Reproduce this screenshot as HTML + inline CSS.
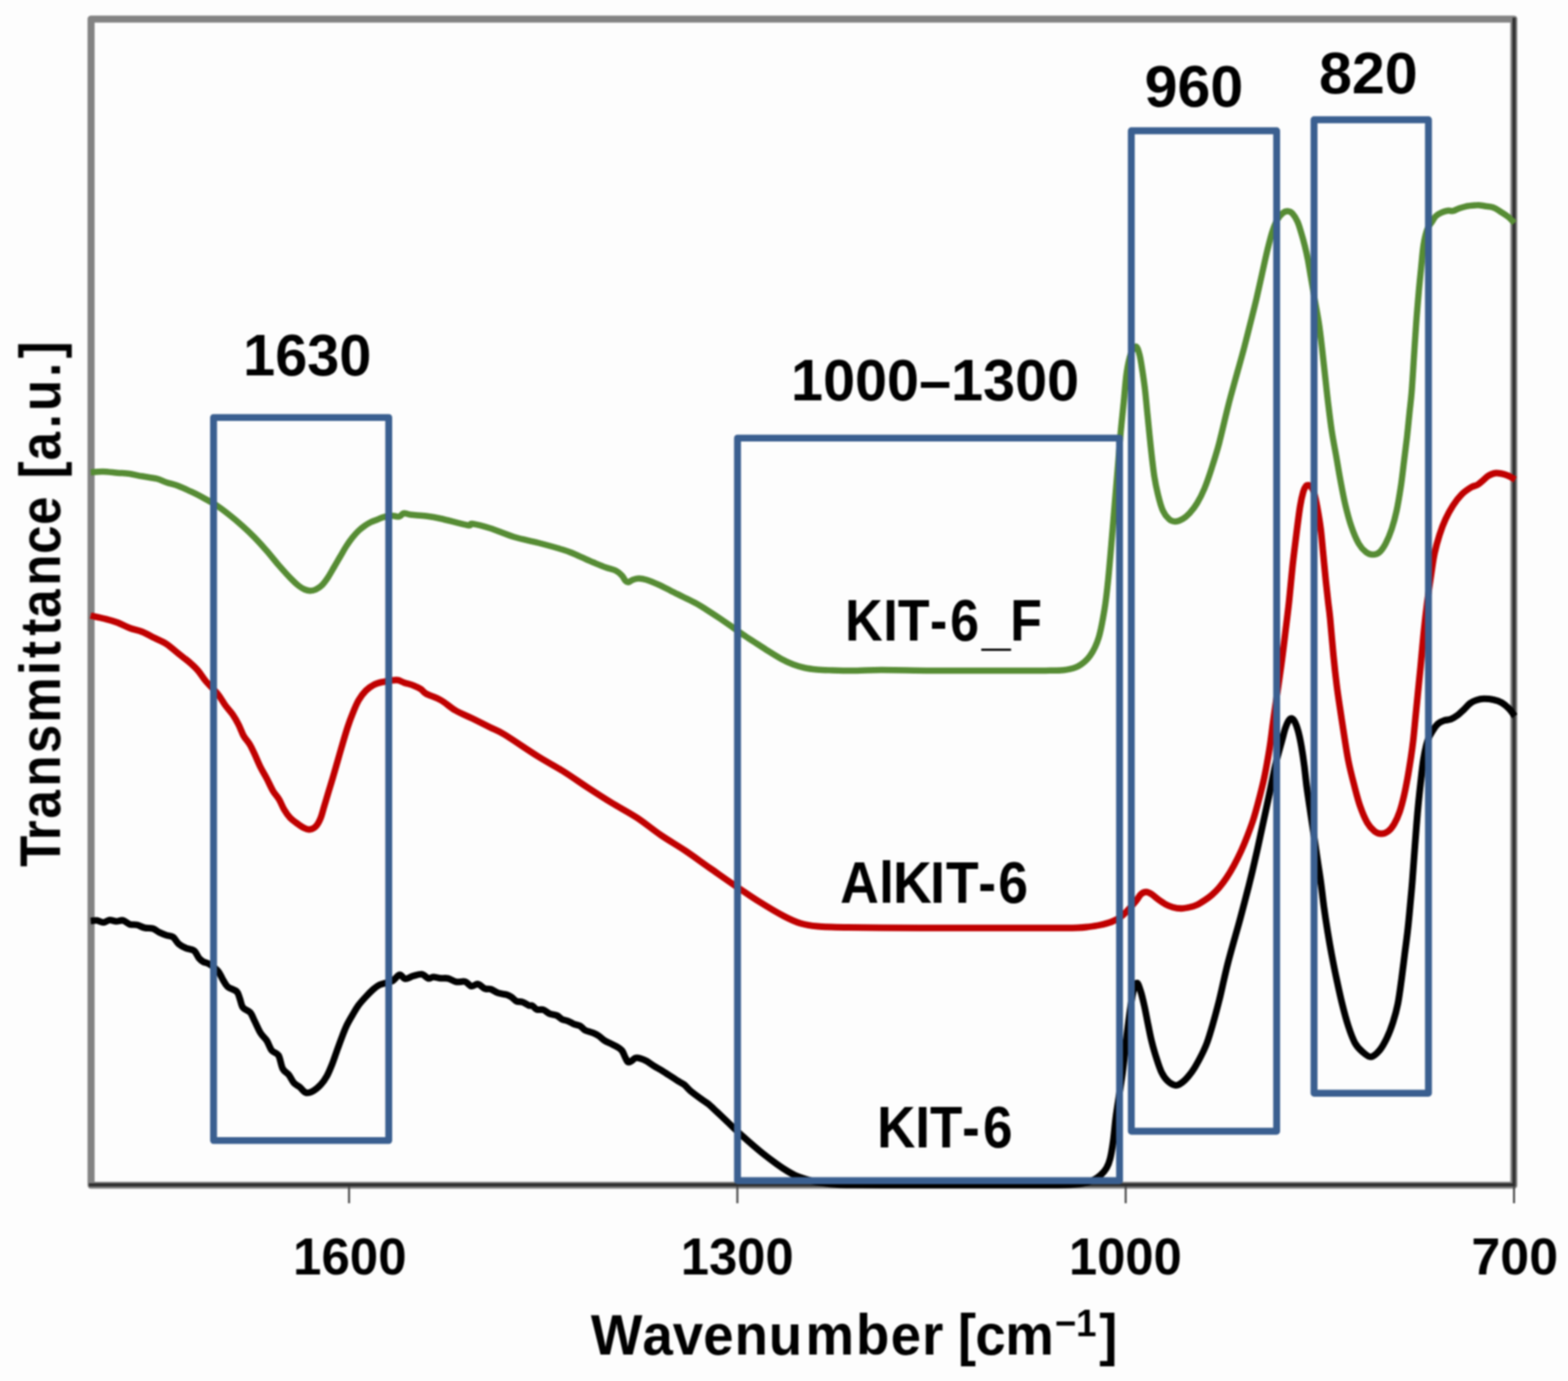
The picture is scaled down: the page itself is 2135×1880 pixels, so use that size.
<!DOCTYPE html>
<html lang="en">
<head>
<meta charset="utf-8">
<title>FTIR spectra of KIT-6, AlKIT-6 and KIT-6_F</title>
<style>
html,body{margin:0;padding:0;background:#fdfdfd;}
body{width:2135px;height:1880px;overflow:hidden;font-family:"Liberation Sans",sans-serif;}
svg{display:block;}
text{white-space:pre;}
</style>
</head>
<body>
<svg width="2135" height="1880" viewBox="0 0 2135 1880" role="img" aria-label="FTIR transmittance spectra of KIT-6, AlKIT-6 and KIT-6_F">
<defs><filter id="soft" x="-2%" y="-2%" width="104%" height="104%" color-interpolation-filters="sRGB"><feGaussianBlur stdDeviation="1.0"/></filter></defs>
<rect width="2135" height="1880" fill="#fdfdfd"/>
<g id="plot" filter="url(#soft)" fill="none">
<rect id="frame" x="124" y="26" width="1937.3" height="1587.5" stroke="#838383" stroke-width="9.6" stroke-linejoin="round"/>
<path id="axes" d="M2061.5,24 L2061.5,1613 L121,1613" stroke="#2e2e2e" stroke-width="4.3" stroke-linejoin="miter"/>
<g id="ticks" stroke="#4c4c4c" stroke-width="2.8">
<line x1="475.25" y1="1615" x2="475.25" y2="1638"/>
<line x1="1004" y1="1615" x2="1004" y2="1638"/>
<line x1="1532.75" y1="1615" x2="1532.75" y2="1638"/>
<line x1="2061.5" y1="1615" x2="2061.5" y2="1638"/>
</g>
<g id="spectra" stroke-linejoin="round">
<path id="kit6" d="M123.5,1253.7C124.9,1253.6 128.8,1252.7 131.7,1253.0C134.6,1253.3 137.9,1255.9 140.8,1255.8C143.7,1255.7 146.3,1252.8 149.2,1252.5C152.1,1252.2 155.2,1254.1 158.3,1254.2C161.4,1254.3 164.4,1252.3 167.5,1253.0C170.6,1253.7 173.5,1257.3 176.7,1258.3C179.9,1259.3 183.4,1258.4 186.7,1259.2C190.0,1260.0 193.1,1262.2 196.7,1263.0C200.3,1263.8 205.0,1263.2 208.3,1264.2C211.6,1265.2 213.6,1267.7 216.7,1269.2C219.8,1270.7 223.5,1272.2 226.7,1273.3C229.9,1274.4 233.0,1273.8 235.8,1275.8C238.6,1277.8 240.4,1282.5 243.3,1285.0C246.2,1287.5 249.8,1289.3 253.3,1290.8C256.8,1292.3 261.3,1292.0 264.2,1294.2C267.1,1296.4 268.7,1301.7 270.8,1304.2C272.9,1306.7 274.3,1307.8 276.7,1309.2C279.1,1310.6 281.7,1310.4 285.0,1312.5C288.3,1314.6 293.6,1318.2 296.7,1321.7C299.8,1325.2 301.1,1329.7 303.3,1333.3C305.5,1336.9 306.8,1340.5 310.0,1343.3C313.2,1346.1 319.7,1347.2 322.5,1350.0C325.3,1352.8 325.3,1356.4 326.7,1360.0C328.1,1363.6 328.4,1368.7 330.8,1371.7C333.2,1374.8 338.2,1375.2 340.8,1378.3C343.4,1381.3 344.3,1385.3 346.7,1390.0C349.1,1394.7 352.2,1402.2 355.0,1406.7C357.8,1411.2 360.8,1412.8 363.3,1416.7C365.8,1420.6 367.4,1426.7 370.0,1430.0C372.6,1433.3 376.7,1432.5 379.2,1436.7C381.7,1440.9 382.6,1450.6 385.0,1455.0C387.4,1459.4 390.8,1460.1 393.3,1463.3C395.8,1466.5 397.5,1471.2 400.0,1474.0C402.5,1476.8 405.5,1477.8 408.3,1480.0C411.1,1482.2 413.6,1486.7 416.7,1487.5C419.8,1488.3 423.4,1486.8 426.7,1485.0C430.0,1483.2 433.6,1480.0 436.7,1476.7C439.8,1473.4 442.5,1469.5 445.0,1465.0C447.5,1460.5 449.5,1455.5 451.7,1450.0C453.9,1444.5 456.1,1437.8 458.3,1431.7C460.5,1425.6 462.8,1419.1 465.0,1413.3C467.2,1407.5 469.2,1402.0 471.7,1396.7C474.2,1391.4 477.2,1386.4 480.0,1381.7C482.8,1377.0 485.2,1372.5 488.3,1368.3C491.4,1364.1 495.0,1360.3 498.3,1356.7C501.6,1353.1 505.2,1349.4 508.3,1346.7C511.4,1344.0 513.9,1342.2 516.7,1340.8C519.5,1339.4 522.0,1339.3 525.0,1338.3C528.0,1337.3 531.8,1336.9 535.0,1335.0C538.2,1333.1 541.4,1327.4 544.2,1327.0C547.0,1326.6 548.7,1332.2 551.7,1332.5C554.8,1332.8 558.8,1329.7 562.5,1328.7C566.2,1327.7 570.7,1325.8 574.2,1326.3C577.7,1326.8 580.7,1331.4 583.3,1332.0C585.9,1332.6 587.2,1330.0 590.0,1330.0C592.8,1330.0 596.7,1331.4 600.0,1331.7C603.3,1332.0 606.4,1331.2 610.0,1332.0C613.6,1332.8 617.8,1336.0 621.7,1336.7C625.6,1337.4 630.0,1335.3 633.3,1336.3C636.6,1337.3 638.8,1341.9 641.7,1342.5C644.6,1343.1 647.8,1339.2 650.8,1339.7C653.8,1340.2 657.1,1344.6 660.0,1345.8C662.9,1347.0 665.2,1345.7 668.3,1346.7C671.3,1347.7 674.7,1350.5 678.3,1351.7C681.9,1353.0 686.9,1353.2 690.0,1354.2C693.1,1355.2 694.5,1356.0 696.7,1357.5C698.9,1359.0 700.8,1361.9 703.3,1363.0C705.8,1364.1 708.9,1363.2 711.7,1364.2C714.5,1365.2 717.8,1367.9 720.0,1368.7C722.2,1369.5 723.2,1368.3 725.0,1369.2C726.8,1370.1 728.3,1373.3 730.8,1374.2C733.3,1375.1 737.1,1373.7 740.0,1374.7C742.9,1375.7 745.2,1378.7 748.3,1380.0C751.3,1381.3 755.5,1381.2 758.3,1382.5C761.1,1383.8 762.5,1386.2 765.0,1387.5C767.5,1388.8 770.5,1388.9 773.3,1390.0C776.1,1391.1 778.9,1393.1 781.7,1394.2C784.5,1395.3 787.5,1395.3 790.0,1396.7C792.5,1398.1 793.9,1401.0 796.7,1402.5C799.5,1404.0 803.7,1404.5 806.7,1405.8C809.8,1407.0 812.2,1408.2 815.0,1410.0C817.8,1411.8 820.5,1414.9 823.3,1416.7C826.1,1418.5 828.9,1419.4 831.7,1420.8C834.5,1422.2 837.5,1423.5 840.0,1425.0C842.5,1426.5 844.9,1427.8 846.7,1430.0C848.5,1432.2 849.4,1435.7 850.8,1438.3C852.2,1440.9 853.5,1444.8 855.0,1445.8C856.5,1446.8 858.3,1445.1 860.0,1444.2C861.7,1443.3 863.0,1440.9 865.0,1440.3C867.0,1439.7 869.2,1440.1 871.7,1440.8C874.2,1441.5 877.0,1442.5 880.0,1444.2C883.0,1445.9 885.5,1448.0 890.0,1450.8C894.5,1453.6 901.2,1457.3 906.7,1460.8C912.2,1464.3 919.1,1469.0 923.3,1471.7C927.5,1474.4 928.9,1474.5 931.7,1476.7C934.5,1478.9 935.8,1481.5 940.0,1485.0C944.2,1488.5 952.5,1494.5 956.7,1497.5C960.9,1500.5 961.7,1500.5 965.0,1503.3C968.3,1506.1 972.5,1510.3 976.7,1514.2C980.9,1518.1 986.1,1523.0 990.0,1526.7C993.9,1530.4 995.2,1532.0 1000.0,1536.5C1004.8,1541.0 1012.3,1547.8 1018.7,1553.4C1025.1,1559.0 1031.8,1564.8 1038.3,1570.0C1044.8,1575.2 1052.1,1580.6 1057.8,1584.7C1063.5,1588.8 1068.4,1592.0 1072.5,1594.5C1076.6,1597.0 1079.0,1598.3 1082.3,1599.8C1085.6,1601.3 1088.3,1602.3 1092.1,1603.6C1095.9,1604.9 1100.3,1606.3 1105.0,1607.5C1109.7,1608.7 1114.2,1609.7 1120.0,1610.5C1125.8,1611.3 1133.3,1612.1 1140.0,1612.5C1146.7,1612.9 1150.0,1612.9 1160.0,1613.0C1170.0,1613.1 1176.7,1613.2 1200.0,1613.2C1223.3,1613.2 1266.7,1613.2 1300.0,1613.2C1333.3,1613.2 1375.0,1613.2 1400.0,1613.2C1425.0,1613.2 1437.5,1613.4 1450.0,1613.0C1462.5,1612.6 1468.6,1612.0 1475.0,1611.0C1481.4,1610.0 1484.4,1608.5 1488.3,1606.7C1492.2,1604.9 1495.2,1602.8 1498.3,1600.0C1501.4,1597.2 1504.5,1593.9 1506.7,1590.0C1508.9,1586.1 1510.2,1582.9 1511.7,1576.7C1513.2,1570.5 1514.5,1562.5 1515.8,1553.0C1517.1,1543.5 1518.1,1530.5 1519.5,1520.0C1520.9,1509.5 1522.5,1500.0 1524.0,1490.0C1525.5,1480.0 1527.2,1470.0 1528.5,1460.0C1529.8,1450.0 1530.8,1440.0 1532.0,1430.0C1533.2,1420.0 1534.2,1410.0 1535.5,1400.0C1536.8,1390.0 1538.2,1378.7 1539.5,1370.0C1540.8,1361.3 1542.0,1353.3 1543.5,1348.0C1545.0,1342.7 1546.7,1338.0 1548.3,1338.3C1549.9,1338.6 1551.6,1344.7 1553.3,1350.0C1555.0,1355.3 1556.6,1362.5 1558.3,1370.0C1560.0,1377.5 1561.6,1387.0 1563.3,1395.0C1565.0,1403.0 1566.3,1410.5 1568.3,1418.3C1570.2,1426.1 1572.8,1434.8 1575.0,1441.7C1577.2,1448.7 1579.2,1455.0 1581.7,1460.0C1584.2,1465.0 1586.8,1468.8 1590.0,1471.7C1593.2,1474.6 1597.5,1477.2 1600.8,1477.5C1604.1,1477.8 1607.1,1475.4 1610.0,1473.3C1612.9,1471.2 1615.5,1468.3 1618.3,1465.0C1621.1,1461.7 1623.9,1457.8 1626.7,1453.3C1629.5,1448.8 1632.2,1443.8 1635.0,1438.3C1637.8,1432.8 1640.5,1427.5 1643.3,1420.0C1646.1,1412.5 1648.9,1402.7 1651.7,1393.0C1654.5,1383.3 1657.6,1371.5 1660.0,1362.0C1662.4,1352.5 1664.0,1344.7 1666.0,1336.0C1668.0,1327.3 1670.0,1318.5 1672.2,1310.0C1674.4,1301.5 1676.7,1293.3 1679.0,1285.0C1681.3,1276.7 1683.8,1268.3 1686.1,1260.0C1688.4,1251.7 1690.6,1243.3 1692.8,1235.0C1695.0,1226.7 1697.2,1218.3 1699.3,1210.0C1701.4,1201.7 1703.4,1193.9 1705.5,1185.0C1707.6,1176.1 1709.8,1166.4 1712.0,1156.7C1714.2,1147.0 1716.3,1136.7 1718.5,1126.7C1720.7,1116.7 1723.1,1105.6 1725.0,1096.7C1726.9,1087.8 1728.0,1082.8 1730.0,1073.3C1732.0,1063.8 1734.5,1050.5 1737.0,1040.0C1739.5,1029.5 1742.8,1018.0 1745.0,1010.0C1747.2,1002.0 1748.5,996.4 1750.0,991.7C1751.5,987.0 1752.9,984.0 1754.2,981.7C1755.5,979.4 1756.6,978.0 1758.0,978.0C1759.4,978.0 1760.9,978.9 1762.5,981.7C1764.1,984.5 1765.9,989.3 1767.5,995.0C1769.1,1000.7 1770.6,1008.0 1772.0,1016.0C1773.4,1024.0 1774.8,1033.5 1776.0,1043.0C1777.2,1052.5 1778.1,1062.7 1779.5,1073.0C1780.9,1083.3 1782.6,1094.3 1784.2,1105.0C1785.8,1115.7 1787.4,1126.4 1789.0,1137.0C1790.6,1147.6 1792.0,1158.0 1793.6,1168.5C1795.1,1179.0 1796.8,1189.2 1798.3,1200.0C1799.8,1210.8 1801.0,1222.2 1802.5,1233.3C1804.0,1244.4 1805.7,1255.6 1807.5,1266.7C1809.3,1277.8 1811.2,1288.9 1813.3,1300.0C1815.4,1311.1 1817.6,1322.2 1820.0,1333.3C1822.4,1344.4 1824.9,1356.1 1827.5,1366.7C1830.1,1377.3 1832.9,1387.8 1835.8,1396.7C1838.7,1405.6 1841.8,1414.2 1845.0,1420.0C1848.2,1425.8 1851.4,1428.6 1855.0,1431.7C1858.6,1434.8 1862.8,1439.0 1866.7,1438.7C1870.6,1438.4 1874.7,1434.2 1878.3,1430.0C1881.9,1425.8 1885.2,1419.7 1888.3,1413.3C1891.4,1406.9 1894.2,1399.5 1896.7,1391.7C1899.2,1383.9 1901.4,1376.4 1903.3,1366.7C1905.2,1357.0 1906.8,1344.4 1908.3,1333.3C1909.8,1322.2 1911.1,1311.1 1912.5,1300.0C1913.9,1288.9 1915.5,1277.8 1916.7,1266.7C1918.0,1255.6 1919.0,1244.4 1920.0,1233.3C1921.0,1222.2 1921.9,1213.9 1923.0,1200.0C1924.1,1186.1 1925.5,1165.3 1926.7,1150.0C1927.9,1134.7 1928.8,1122.2 1930.0,1108.3C1931.2,1094.4 1932.8,1079.2 1934.2,1066.7C1935.6,1054.2 1936.7,1043.1 1938.3,1033.3C1939.9,1023.5 1941.8,1014.7 1944.0,1008.0C1946.2,1001.3 1949.3,997.1 1951.7,993.3C1954.1,989.5 1955.8,987.1 1958.3,985.0C1960.8,982.9 1963.9,981.8 1966.7,980.8C1969.5,979.8 1972.0,980.5 1975.0,979.2C1978.0,978.0 1982.0,975.5 1985.0,973.3C1988.0,971.1 1990.5,968.4 1993.3,965.8C1996.1,963.2 1998.9,959.6 2001.7,957.5C2004.5,955.4 2007.0,954.3 2010.0,953.3C2013.0,952.3 2016.1,951.4 2020.0,951.3C2023.9,951.2 2029.1,951.6 2033.3,952.5C2037.5,953.4 2041.4,954.6 2045.0,956.7C2048.6,958.8 2052.1,962.0 2055.0,965.0C2057.9,968.0 2061.2,973.3 2062.5,975.0" stroke="#000" stroke-width="9.1"/>
<path id="alkit6" d="M123.3,838.0C126.6,838.8 137.2,840.9 143.3,842.5C149.4,844.1 154.4,845.4 160.0,847.5C165.6,849.6 171.1,852.9 176.7,855.0C182.2,857.1 187.8,857.8 193.3,860.0C198.9,862.2 204.4,865.5 210.0,868.3C215.6,871.1 221.1,873.1 226.7,876.7C232.2,880.3 237.8,885.6 243.3,890.0C248.9,894.4 255.6,899.4 260.0,903.3C264.4,907.2 266.7,909.3 270.0,913.3C273.3,917.2 275.6,921.7 280.0,927.0C284.4,932.3 292.2,939.5 296.7,945.0C301.1,950.5 303.4,955.4 306.7,960.0C310.0,964.6 313.6,968.0 316.7,972.5C319.8,977.0 322.5,981.8 325.0,986.7C327.5,991.6 329.2,997.3 331.7,1001.7C334.2,1006.1 337.5,1009.1 340.0,1013.3C342.5,1017.5 344.2,1021.4 346.7,1026.7C349.2,1032.0 352.2,1039.5 355.0,1045.0C357.8,1050.5 360.5,1054.7 363.3,1060.0C366.1,1065.3 368.9,1072.0 371.7,1076.7C374.5,1081.4 377.5,1084.1 380.0,1088.3C382.5,1092.5 384.2,1097.5 386.7,1101.7C389.2,1105.9 392.2,1110.2 395.0,1113.3C397.8,1116.3 400.2,1117.8 403.3,1120.0C406.4,1122.2 410.2,1125.2 413.3,1126.7C416.4,1128.2 418.9,1129.5 421.7,1129.2C424.5,1128.9 427.5,1127.7 430.0,1125.0C432.5,1122.3 434.8,1118.0 436.7,1113.3C438.6,1108.6 440.0,1102.2 441.7,1096.7C443.4,1091.2 444.8,1086.4 446.7,1080.0C448.6,1073.6 451.1,1065.8 453.3,1058.3C455.5,1050.8 457.8,1042.8 460.0,1035.0C462.2,1027.2 464.5,1019.2 466.7,1011.7C468.9,1004.2 471.1,996.7 473.3,990.0C475.5,983.3 477.5,977.8 480.0,971.7C482.5,965.6 485.2,958.6 488.3,953.3C491.4,948.0 494.7,943.6 498.3,940.0C501.9,936.4 506.1,933.7 510.0,931.7C513.9,929.8 516.7,929.3 521.7,928.3C526.7,927.3 535.3,925.6 540.0,925.8C544.7,925.9 546.1,928.0 550.0,929.2C553.9,930.5 559.4,931.8 563.3,933.3C567.2,934.8 570.5,936.5 573.3,938.3C576.1,940.1 575.5,941.8 580.0,944.2C584.5,946.7 593.3,949.2 600.0,953.0C606.7,956.8 612.8,962.8 620.0,967.0C627.2,971.2 635.2,974.2 643.0,978.0C650.8,981.8 659.7,986.3 667.0,990.0C674.3,993.7 676.0,993.3 687.0,1000.0C698.0,1006.7 719.7,1021.7 733.0,1030.0C746.3,1038.3 755.8,1043.0 767.0,1050.0C778.2,1057.0 789.0,1064.8 800.0,1072.0C811.0,1079.2 821.8,1086.2 833.0,1093.0C844.2,1099.8 855.8,1105.7 867.0,1113.0C878.2,1120.3 889.0,1129.5 900.0,1137.0C911.0,1144.5 921.8,1150.5 933.0,1158.0C944.2,1165.5 955.8,1174.2 967.0,1182.0C978.2,1189.8 989.0,1197.5 1000.0,1205.0C1011.0,1212.5 1021.8,1220.0 1033.0,1227.0C1044.2,1234.0 1057.5,1242.0 1067.0,1247.0C1076.5,1252.0 1082.3,1254.7 1090.0,1257.0C1097.7,1259.3 1103.0,1260.1 1113.0,1261.0C1123.0,1261.9 1135.5,1262.2 1150.0,1262.5C1164.5,1262.8 1178.3,1262.9 1200.0,1263.0C1221.7,1263.1 1253.3,1263.2 1280.0,1263.3C1306.7,1263.3 1336.7,1263.3 1360.0,1263.3C1383.3,1263.3 1405.0,1263.3 1420.0,1263.3C1435.0,1263.3 1442.2,1263.2 1450.0,1263.2C1457.8,1263.2 1462.0,1263.2 1467.0,1263.0C1472.0,1262.8 1475.0,1262.6 1480.0,1262.0C1485.0,1261.4 1491.2,1260.7 1496.7,1259.5C1502.2,1258.3 1508.6,1256.8 1513.3,1255.0C1518.0,1253.2 1521.7,1251.2 1525.0,1249.0C1528.3,1246.8 1529.7,1245.4 1533.3,1241.7C1536.9,1238.0 1543.4,1230.7 1546.7,1226.7C1550.0,1222.7 1551.0,1219.6 1553.3,1217.5C1555.6,1215.4 1558.3,1214.2 1560.8,1214.2C1563.3,1214.2 1565.6,1215.8 1568.3,1217.5C1571.0,1219.2 1573.6,1222.0 1576.7,1224.2C1579.8,1226.4 1583.4,1229.0 1586.7,1230.8C1590.0,1232.6 1593.1,1234.0 1596.7,1235.0C1600.3,1236.0 1604.4,1236.7 1608.3,1236.7C1612.2,1236.7 1616.4,1235.8 1620.0,1235.0C1623.6,1234.2 1626.7,1233.2 1630.0,1231.7C1633.3,1230.2 1636.7,1228.0 1640.0,1225.8C1643.3,1223.6 1646.7,1221.2 1650.0,1218.3C1653.3,1215.4 1656.7,1212.2 1660.0,1208.3C1663.3,1204.4 1666.7,1200.0 1670.0,1195.0C1673.3,1190.0 1676.7,1184.4 1680.0,1178.3C1683.3,1172.2 1687.0,1165.0 1690.0,1158.3C1693.0,1151.6 1695.5,1145.5 1698.3,1138.3C1701.1,1131.1 1704.2,1122.8 1706.7,1115.0C1709.2,1107.2 1711.1,1100.0 1713.3,1091.7C1715.5,1083.4 1718.0,1073.6 1720.0,1065.0C1722.0,1056.4 1723.5,1048.3 1725.0,1040.0C1726.5,1031.7 1728.0,1023.3 1729.2,1015.0C1730.5,1006.7 1731.5,997.8 1732.5,990.0C1733.5,982.2 1733.5,982.2 1735.5,968.3C1737.5,954.4 1742.0,924.4 1744.4,906.7C1746.8,889.0 1748.2,877.0 1750.0,862.2C1751.8,847.4 1753.7,832.8 1755.3,817.8C1756.9,802.8 1758.2,786.9 1759.8,772.0C1761.4,757.1 1763.3,742.4 1765.0,728.6C1766.7,714.9 1768.6,699.4 1770.2,689.5C1771.8,679.6 1773.2,674.1 1774.5,669.5C1775.8,664.9 1776.8,663.5 1778.0,662.0C1779.2,660.5 1780.2,660.4 1781.4,660.5C1782.6,660.6 1783.7,660.9 1785.0,662.5C1786.3,664.1 1787.6,665.4 1789.0,670.0C1790.4,674.6 1792.0,681.7 1793.5,690.0C1795.0,698.3 1797.0,709.7 1798.3,720.0C1799.6,730.3 1800.3,740.2 1801.5,752.0C1802.7,763.8 1804.1,779.7 1805.3,791.0C1806.5,802.3 1807.5,811.5 1808.5,820.0C1809.5,828.5 1809.9,829.8 1811.1,842.0C1812.3,854.2 1814.2,878.0 1815.7,893.0C1817.2,908.0 1818.5,919.7 1820.0,932.0C1821.5,944.3 1823.2,955.2 1825.0,967.0C1826.8,978.8 1828.7,991.7 1830.5,1003.0C1832.3,1014.3 1833.7,1024.4 1835.8,1035.0C1837.9,1045.6 1840.6,1056.4 1843.3,1066.7C1846.0,1077.0 1848.6,1087.8 1851.7,1096.7C1854.8,1105.6 1858.4,1114.2 1861.7,1120.0C1865.0,1125.8 1868.5,1129.2 1871.7,1131.7C1874.9,1134.2 1877.8,1135.0 1880.8,1135.0C1883.8,1135.0 1887.1,1133.9 1890.0,1131.7C1892.9,1129.5 1895.7,1126.2 1898.3,1121.7C1900.9,1117.2 1903.6,1111.4 1905.8,1105.0C1908.0,1098.6 1909.9,1091.1 1911.7,1083.3C1913.5,1075.5 1915.2,1066.6 1916.7,1058.3C1918.2,1050.0 1919.5,1041.6 1920.8,1033.3C1922.0,1025.0 1923.1,1018.0 1924.2,1008.3C1925.3,998.6 1926.4,986.1 1927.5,975.0C1928.6,963.9 1929.7,952.8 1930.8,941.7C1931.9,930.6 1932.9,921.6 1934.2,908.3C1935.5,895.0 1937.0,876.7 1938.5,862.0C1940.0,847.3 1941.5,834.0 1943.3,820.0C1945.1,806.0 1947.5,789.4 1949.2,778.3C1950.9,767.2 1951.5,761.6 1953.3,753.3C1955.1,745.0 1957.5,736.1 1960.0,728.3C1962.5,720.5 1965.2,713.4 1968.3,706.7C1971.3,700.0 1974.7,693.9 1978.3,688.3C1981.9,682.7 1985.8,677.5 1990.0,673.3C1994.2,669.1 1999.7,665.5 2003.3,663.3C2006.9,661.1 2008.9,661.7 2011.7,660.0C2014.5,658.3 2017.5,655.4 2020.0,653.3C2022.5,651.2 2024.2,649.0 2027.0,647.5C2029.8,646.0 2032.8,644.1 2037.0,644.0C2041.2,643.9 2047.7,645.5 2052.0,647.0C2056.3,648.5 2061.2,652.0 2063.0,653.0" stroke="#c00000" stroke-width="8.9"/>
<path id="kit6f" d="M123.5,643.0C126.2,642.8 133.9,641.9 140.0,642.0C146.1,642.1 153.9,643.2 160.0,643.7C166.1,644.2 171.1,644.2 176.7,645.0C182.2,645.8 187.2,647.2 193.3,648.3C199.4,649.4 207.7,650.3 213.3,651.7C218.9,653.1 221.7,655.0 226.7,656.7C231.7,658.4 237.8,659.6 243.3,661.7C248.9,663.8 255.6,667.2 260.0,669.2C264.4,671.2 266.7,672.3 270.0,674.0C273.3,675.7 275.6,677.0 280.0,679.5C284.4,682.0 291.1,685.5 296.7,689.2C302.2,692.9 307.8,697.3 313.3,701.7C318.9,706.1 324.4,710.8 330.0,715.8C335.6,720.8 341.1,726.0 346.7,731.7C352.2,737.4 357.8,743.6 363.3,750.0C368.9,756.4 374.4,763.6 380.0,770.0C385.6,776.4 392.2,783.7 396.7,788.3C401.1,792.9 403.6,795.1 406.7,797.5C409.8,799.9 412.4,801.4 415.0,802.5C417.6,803.6 420.0,804.2 422.5,804.2C425.0,804.2 427.4,803.8 430.0,802.5C432.6,801.2 435.5,799.5 438.3,796.7C441.1,793.9 443.9,790.0 446.7,785.8C449.5,781.6 452.2,776.4 455.0,771.7C457.8,767.0 460.5,762.2 463.3,757.5C466.1,752.8 468.9,747.6 471.7,743.3C474.5,739.0 477.2,735.2 480.0,731.7C482.8,728.2 485.5,725.1 488.3,722.5C491.1,719.9 493.9,717.8 496.7,715.8C499.5,713.8 502.2,712.2 505.0,710.8C507.8,709.4 510.5,708.6 513.3,707.5C516.1,706.4 518.4,705.1 521.7,704.2C525.0,703.3 529.7,702.1 533.3,702.0C536.9,701.9 540.5,703.8 543.3,703.3C546.1,702.8 547.2,699.1 550.0,698.7C552.8,698.3 555.0,700.2 560.0,700.8C565.0,701.4 573.3,701.6 580.0,702.5C586.7,703.4 590.5,703.9 600.0,706.0C609.5,708.1 629.8,713.8 637.0,715.0C644.2,716.2 638.0,712.3 643.0,713.0C648.0,713.7 657.5,716.0 667.0,719.0C676.5,722.0 689.0,727.7 700.0,731.0C711.0,734.3 721.8,736.1 733.0,739.0C744.2,741.9 759.2,746.1 767.0,748.5C774.8,750.9 775.6,751.5 780.0,753.3C784.4,755.1 788.6,757.1 793.3,759.2C798.0,761.3 803.0,763.6 808.3,765.8C813.6,768.0 820.0,770.7 825.0,772.5C830.0,774.3 834.7,774.9 838.3,776.7C841.9,778.5 844.5,780.9 846.7,783.3C848.9,785.6 850.2,789.3 851.7,790.8C853.2,792.3 854.1,792.8 855.8,792.5C857.5,792.2 859.3,790.0 861.7,789.2C864.1,788.4 867.0,787.5 870.0,787.5C873.0,787.5 875.5,787.8 880.0,789.2C884.5,790.6 891.2,793.3 896.7,795.8C902.2,798.3 907.8,801.4 913.3,804.2C918.8,807.0 924.4,809.7 930.0,812.5C935.6,815.3 941.2,817.8 946.7,820.8C952.2,823.8 957.8,827.3 963.3,830.8C968.8,834.3 974.4,838.0 980.0,841.7C985.6,845.5 991.2,849.4 996.7,853.3C1002.2,857.2 1007.8,861.2 1013.3,865.0C1018.8,868.8 1024.4,872.2 1030.0,875.8C1035.6,879.4 1041.2,883.2 1046.7,886.7C1052.2,890.2 1057.8,893.7 1063.3,896.7C1068.8,899.7 1074.7,902.5 1080.0,904.5C1085.3,906.5 1089.7,907.8 1095.0,909.0C1100.3,910.2 1105.7,910.9 1112.0,911.5C1118.3,912.1 1123.8,912.2 1133.0,912.5C1142.2,912.8 1155.8,913.1 1167.0,913.0C1178.2,912.9 1183.3,912.0 1200.0,912.0C1216.7,912.0 1244.8,912.8 1267.0,913.0C1289.2,913.2 1310.8,913.0 1333.0,913.0C1355.2,913.0 1383.8,913.0 1400.0,913.0C1416.2,913.0 1421.7,912.9 1430.0,912.7C1438.3,912.5 1443.7,913.0 1450.0,912.0C1456.3,911.0 1462.3,910.2 1468.0,907.0C1473.7,903.8 1479.3,899.5 1484.0,893.0C1488.7,886.5 1492.7,878.7 1496.0,868.0C1499.3,857.3 1501.8,842.3 1504.0,829.0C1506.2,815.7 1507.5,802.8 1509.0,788.0C1510.5,773.2 1511.9,756.3 1513.3,740.0C1514.7,723.7 1516.1,706.7 1517.5,690.0C1518.9,673.3 1520.3,656.7 1521.7,640.0C1523.1,623.3 1524.4,605.3 1525.8,590.0C1527.2,574.7 1528.6,562.2 1530.0,548.3C1531.4,534.4 1532.5,517.9 1534.2,506.7C1535.9,495.5 1537.9,486.8 1540.0,481.0C1542.1,475.2 1544.8,471.3 1546.7,471.7C1548.7,472.1 1550.2,477.5 1551.7,483.3C1553.2,489.1 1554.5,498.6 1555.8,506.7C1557.0,514.8 1558.1,522.0 1559.2,531.7C1560.3,541.4 1561.2,552.5 1562.5,565.0C1563.8,577.5 1565.2,592.8 1566.7,606.7C1568.2,620.6 1570.0,637.2 1571.7,648.3C1573.4,659.4 1574.8,665.5 1576.7,673.3C1578.6,681.1 1580.8,689.4 1583.3,695.0C1585.8,700.6 1588.9,704.2 1591.7,706.7C1594.5,709.2 1597.0,710.0 1600.0,710.0C1603.0,710.0 1606.7,708.7 1610.0,706.7C1613.3,704.8 1616.7,701.9 1620.0,698.3C1623.3,694.7 1626.7,690.5 1630.0,685.0C1633.3,679.5 1636.7,673.0 1640.0,665.0C1643.3,657.0 1646.7,647.0 1650.0,636.7C1653.3,626.4 1656.7,615.8 1660.0,603.3C1663.3,590.8 1667.4,572.5 1670.0,562.0C1672.6,551.5 1673.1,549.3 1675.6,540.0C1678.1,530.7 1681.9,517.1 1685.0,506.0C1688.1,494.9 1691.1,484.5 1694.0,473.5C1696.9,462.5 1699.7,451.1 1702.5,440.0C1705.3,428.9 1708.2,417.8 1710.8,406.7C1713.4,395.6 1715.8,384.4 1718.3,373.3C1720.8,362.2 1723.4,349.7 1725.8,340.0C1728.2,330.3 1730.3,321.8 1732.5,315.0C1734.7,308.2 1736.6,303.7 1739.0,299.5C1741.4,295.3 1744.3,292.0 1746.7,290.0C1749.1,288.0 1751.1,287.4 1753.3,287.5C1755.5,287.6 1757.8,288.4 1760.0,290.8C1762.2,293.2 1764.8,297.4 1766.7,301.7C1768.7,306.0 1770.0,311.1 1771.7,316.7C1773.4,322.2 1775.2,328.9 1776.7,335.0C1778.2,341.1 1779.5,346.9 1780.8,353.3C1782.0,359.7 1782.7,364.4 1784.2,373.3C1785.7,382.2 1788.1,395.9 1790.0,407.0C1791.9,418.1 1794.1,428.9 1795.8,440.0C1797.5,451.1 1798.6,461.1 1800.0,473.3C1801.4,485.5 1803.0,500.6 1804.4,513.0C1805.8,525.5 1806.8,535.7 1808.3,548.0C1809.8,560.3 1811.5,574.7 1813.3,586.7C1815.1,598.7 1817.2,608.9 1819.2,620.0C1821.2,631.1 1822.9,642.2 1825.0,653.3C1827.1,664.4 1829.2,676.1 1831.7,686.7C1834.2,697.3 1837.0,707.8 1840.0,716.7C1843.0,725.6 1846.7,734.2 1850.0,740.0C1853.3,745.8 1856.8,749.2 1860.0,751.7C1863.2,754.2 1866.2,755.0 1869.2,755.0C1872.2,755.0 1875.4,754.2 1878.3,751.7C1881.2,749.2 1883.9,745.3 1886.7,740.0C1889.5,734.7 1892.5,727.5 1895.0,720.0C1897.5,712.5 1899.6,704.7 1901.7,695.0C1903.8,685.3 1905.8,672.8 1907.5,661.7C1909.2,650.6 1910.3,639.4 1911.7,628.3C1913.1,617.2 1914.5,606.1 1915.8,595.0C1917.0,583.9 1918.2,571.7 1919.2,561.7C1920.2,551.7 1921.0,547.0 1922.0,535.0C1923.0,523.0 1924.0,505.8 1925.0,490.0C1926.0,474.2 1927.2,455.3 1928.3,440.0C1929.4,424.7 1930.6,410.8 1931.7,398.3C1932.8,385.8 1933.9,375.8 1935.0,365.0C1936.1,354.2 1936.9,342.1 1938.3,333.3C1939.7,324.5 1941.5,317.3 1943.5,312.0C1945.5,306.7 1948.1,304.7 1950.0,301.7C1951.9,298.7 1952.8,296.3 1955.0,294.2C1957.2,292.1 1960.5,290.4 1963.3,289.2C1966.1,287.9 1969.2,287.0 1971.7,286.7C1974.2,286.4 1975.8,287.7 1978.3,287.2C1980.8,286.7 1983.6,284.8 1986.7,283.7C1989.8,282.6 1992.5,281.6 1996.7,280.8C2000.9,280.1 2007.5,279.2 2011.7,279.2C2015.9,279.1 2018.1,279.9 2021.7,280.5C2025.3,281.1 2029.7,281.2 2033.3,282.5C2036.9,283.8 2040.0,286.2 2043.3,288.3C2046.6,290.4 2050.2,292.5 2053.3,295.0C2056.4,297.5 2060.6,302.1 2062.0,303.5" stroke="#568c34" stroke-width="8.5"/>
</g>
<g id="bands" stroke="#3a5f90" stroke-width="9.4" stroke-linejoin="round">
<rect x="290.8" y="568.4" width="238.5" height="984.2"/>
<rect x="1004.2" y="596.4" width="520.2" height="1010.9"/>
<rect x="1540.4" y="178" width="197.9" height="1362.0"/>
<rect x="1789.2" y="163" width="155.8" height="1325.2"/>
</g>
</g>
<g id="labels" filter="url(#soft)" font-family="&quot;Liberation Sans&quot;, sans-serif" font-weight="bold" fill="#000">
<text transform="translate(399.05,1734.8) scale(0.9867,1)" font-size="70.4">1600</text>
<text transform="translate(927.08,1734.8) scale(0.9800,1)" font-size="70.4">1300</text>
<text transform="translate(1455.58,1734.8) scale(0.9800,1)" font-size="70.4">1000</text>
<text transform="translate(2003.49,1734.8) scale(1.0045,1)" font-size="70.4">700</text>
<text transform="translate(331.03,510.8) scale(0.9940,1)" font-size="79.0">1630</text>
<text transform="translate(1077.04,544.8) scale(0.9922,1)" font-size="79.0">1000–1300</text>
<text transform="translate(1558.44,144.5) scale(1.0200,1)" font-size="79.0">960</text>
<text transform="translate(1795.94,127.2) scale(1.0200,1)" font-size="79.0">820</text>
<text class="lab" transform="translate(0,872.4) scale(0.8960,1)" x="1284.3 1342.3 1364.4 1413.1 1443.9 1491.8 1535.1" y="0.0 0.0 0.0 0.0 0.0 3.4 0.0" font-size="79.0">KIT-6_F</text>
<text class="lab" transform="translate(0,1228.5) scale(0.9226,1)" x="1240.0 1297.3 1318.0 1372.8 1396.1 1443.7 1473.2" y="0.0 0.0 0.0 0.0 0.0 0.0 0.0" font-size="79.0">AlKIT-6</text>
<text class="lab" transform="translate(0,1562.2) scale(0.9144,1)" x="1306.0 1362.9 1384.8 1432.7 1463.8" y="0.0 0.0 0.0 0.0 0.0" font-size="79.0">KIT-6</text>
<text class="xtitle" transform="translate(0,1844.4) scale(0.9603,1)" x="837.9 911.0 953.8 997.0 1041.5 1090.0 1142.1 1213.7 1262.9 1307.5 1337.5 1358.2 1382.9 1425.4 1495.8 1525.9 1558.5" y="0.0 0.0 0.0 0.0 0.0 0.0 0.0 0.0 0.0 0.0 0.0 0.0 0.0 0.0 -25.4 -25.4 0.0" font-size="77.5">Wavenumber [cm<tspan font-size="52.0">−1</tspan>]</text>
<text class="ytitle" transform="translate(81.7,0) rotate(-90) scale(0.8968,1)" x="-1316.0 -1275.4 -1242.5 -1194.1 -1143.4 -1097.1 -1024.8 -999.0 -965.0 -938.0 -889.2 -840.8 -796.7 -755.7 -726.2 -699.0 -650.1 -624.1 -572.0 -543.9" y="0.0 0.0 0.0 0.0 0.0 0.0 0.0 0.0 0.0 0.0 0.0 0.0 0.0 0.0 0.0 0.0 0.0 0.0 0.0 0.0" font-size="77.5">Transmittance [a.u.]</text>
</g>
</svg>
</body>
</html>
